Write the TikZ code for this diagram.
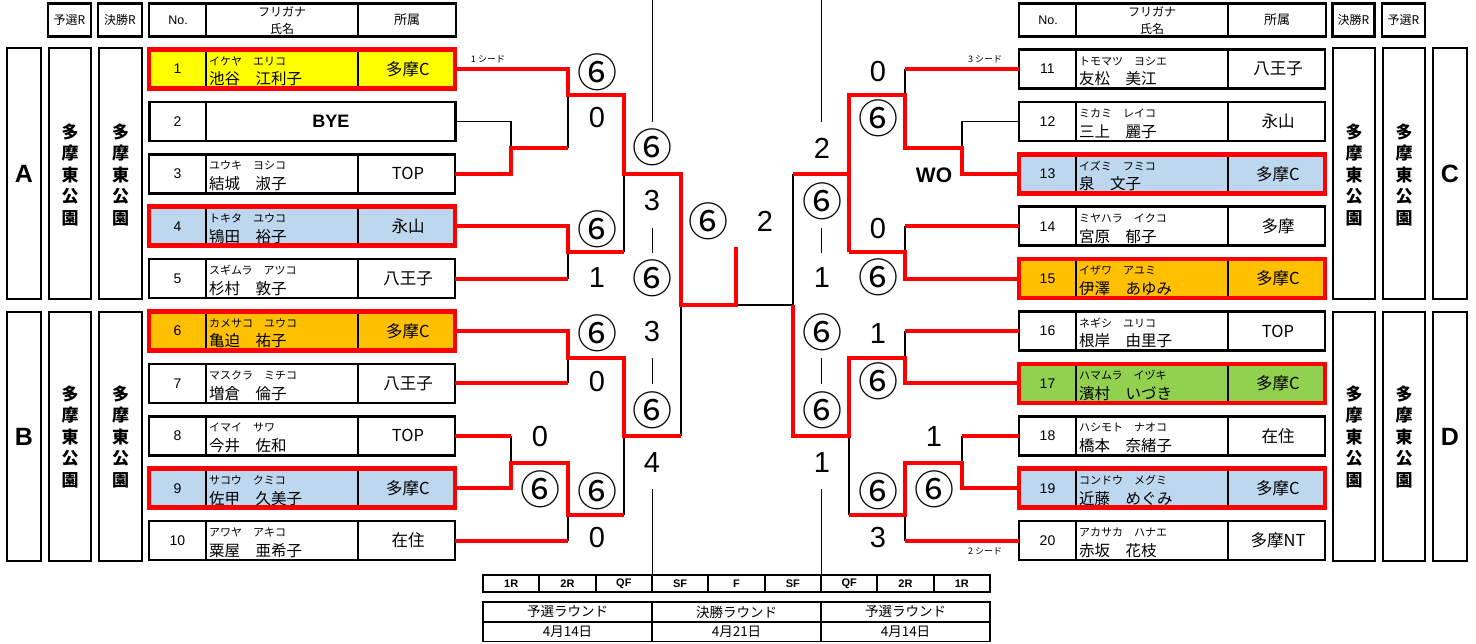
\documentclass[tikz,border=0pt]{standalone}
\usepackage{fontspec}
\setmainfont{Liberation Sans}
\newfontfamily\jp{Noto Sans CJK JP}
\definecolor{cyel}{HTML}{FFFF00}
\definecolor{cblue}{HTML}{BDD7EE}
\definecolor{corg}{HTML}{FFC000}
\definecolor{cgrn}{HTML}{92D050}
\definecolor{cred}{HTML}{FF0000}
\tikzset{
  rowbox/.style={draw=black,line width=2.5pt,minimum width=306pt,minimum height=39pt,inner sep=0pt,outer sep=0pt},
  colbox/.style={draw=black,line width=2.5pt,inner sep=0pt,outer sep=0pt},
  divl/.style={draw=black,line width=1.3pt},
  divh/.style={draw=black,line width=2.5pt},
  rframe/.style={draw=cred,line width=4.5pt},
  rl/.style={draw=cred,line width=4pt},
  bl/.style={draw=black,line width=1.8pt},
  thinl/.style={draw=black,line width=0.9pt},
  numtxt/.style={font=\fontsize{14}{14}\selectfont,inner sep=0pt},
  kana/.style={font=\jp\fontsize{11}{11}\selectfont,inner sep=0pt,anchor=west},
  kanji/.style={font=\jp\fontsize{15.5}{15.5}\selectfont,inner sep=0pt,anchor=west},
  afftxt/.style={font=\jp\fontsize{16.5}{16.5}\selectfont,inner sep=0pt},
  hdr/.style={font=\jp\fontsize{12}{12}\selectfont,inner sep=0pt},
  vtext/.style={font=\jp\bfseries\fontsize{17}{21.5}\selectfont,align=center,inner sep=0pt},
  bigl/.style={font=\bfseries\fontsize{25}{25}\selectfont,inner sep=0pt},
  sc/.style={font=\fontsize{29}{29}\selectfont,inner sep=0pt},
  cs/.style={font=\jp\fontsize{40}{40}\selectfont,inner sep=0pt},
  seed/.style={font=\jp\fontsize{9}{9}\selectfont,inner sep=0pt},
  rcell/.style={draw=black,line width=1.8pt,minimum width=56.33pt,minimum height=17pt,inner sep=0pt,font=\bfseries\fontsize{11}{11}\selectfont},
  dcell/.style={inner sep=0pt,font=\jp\fontsize{13.5}{13.5}\selectfont}
}
% #1 id, #2 xleft, #3 yc, #4 no, #5 kana, #6 kanji, #7 aff, #8 fill
\newcommand\prow[8]{%
  \node[rowbox,fill=#8] (#1) at ({#2+153},#3) {};
  \draw[divl] ({#2+57},{#3-19.5}) -- ({#2+57},{#3+19.5});
  \draw[divl] ({#2+209},{#3-19.5}) -- ({#2+209},{#3+19.5});
  \node[numtxt] (#1n) at ({#2+28.5},#3) {#4};
  \node[kana] (#1f) at ({#2+60},{#3-8}) {#5};
  \node[kanji] (#1k) at ({#2+60},{#3+10}) {#6};
  \node[afftxt] (#1a) at ({#2+259},#3) {#7};
}
\newcommand\redframe[1]{\draw[rframe] (#1.north west) rectangle (#1.south east);}
\begin{document}
\begin{tikzpicture}[x=1pt,y=-1pt]
\useasboundingbox (0,0) rectangle (1476,643);
\fill[white] (0,0) rectangle (1476,643);

% ---------- headers ----------
\node[colbox,minimum width=43pt,minimum height=33pt,hdr] (hYL) at (69.5,20) {予選R};
\node[colbox,minimum width=44pt,minimum height=33pt,hdr] (hKL) at (120,20) {決勝R};
\node[colbox,minimum width=307pt,minimum height=33pt] (hTL) at (302.5,20) {};
\draw[divh] (206,3.5) -- (206,36.5);
\draw[divh] (358,3.5) -- (358,36.5);
\node[hdr,font=\fontsize{12.5}{12.5}\selectfont] (hNoL) at (178,20) {No.};
\node[hdr] (hFL) at (282,12) {フリガナ};
\node[hdr] (hSL) at (282,29) {氏名};
\node[hdr,font=\jp\fontsize{13}{13}\selectfont] (hAL) at (407,20) {所属};

\node[colbox,minimum width=307pt,minimum height=33pt] (hTR) at (1172.5,20) {};
\draw[divh] (1076,3.5) -- (1076,36.5);
\draw[divh] (1228,3.5) -- (1228,36.5);
\node[hdr,font=\fontsize{12.5}{12.5}\selectfont] (hNoR) at (1048,20) {No.};
\node[hdr] (hFR) at (1152,12) {フリガナ};
\node[hdr] (hSR) at (1152,29) {氏名};
\node[hdr,font=\jp\fontsize{13}{13}\selectfont] (hAR) at (1277,20) {所属};
\node[colbox,minimum width=42pt,minimum height=33pt,hdr] (hKR) at (1353.5,20) {決勝R};
\node[colbox,minimum width=43pt,minimum height=33pt,hdr] (hYR) at (1403.5,20) {予選R};

% ---------- side columns ----------
\node[colbox,minimum width=34pt,minimum height=251pt] (cA) at (24,173.5) {};
\node[bigl] (tA) at (24,173.5) {A};
\node[colbox,minimum width=42pt,minimum height=251pt] (cA1) at (70,173.5) {};
\node[vtext] (tA1) at (70,175) {多\\摩\\東\\公\\園};
\node[colbox,minimum width=43pt,minimum height=251pt] (cA2) at (120.5,173.5) {};
\node[vtext] (tA2) at (120.5,175) {多\\摩\\東\\公\\園};
\node[colbox,minimum width=34pt,minimum height=249pt] (cB) at (24,436.5) {};
\node[bigl] (tB) at (24,436.5) {B};
\node[colbox,minimum width=42pt,minimum height=249pt] (cB1) at (70,436.5) {};
\node[vtext] (tB1) at (70,437) {多\\摩\\東\\公\\園};
\node[colbox,minimum width=43pt,minimum height=249pt] (cB2) at (120.5,436.5) {};
\node[vtext] (tB2) at (120.5,437) {多\\摩\\東\\公\\園};

\node[colbox,minimum width=42pt,minimum height=251pt] (cC1) at (1354,173.5) {};
\node[vtext] (tC1) at (1354,175) {多\\摩\\東\\公\\園};
\node[colbox,minimum width=42pt,minimum height=251pt] (cC2) at (1404,173.5) {};
\node[vtext] (tC2) at (1404,175) {多\\摩\\東\\公\\園};
\node[colbox,minimum width=34pt,minimum height=251pt] (cC) at (1450,173.5) {};
\node[bigl] (tC) at (1450,173.5) {C};
\node[colbox,minimum width=42pt,minimum height=249pt] (cD1) at (1354,436.5) {};
\node[vtext] (tD1) at (1354,437) {多\\摩\\東\\公\\園};
\node[colbox,minimum width=42pt,minimum height=249pt] (cD2) at (1404,436.5) {};
\node[vtext] (tD2) at (1404,437) {多\\摩\\東\\公\\園};
\node[colbox,minimum width=34pt,minimum height=249pt] (cD) at (1450,436.5) {};
\node[bigl] (tD) at (1450,436.5) {D};

% ---------- players ----------
\prow{p1}{149}{69}{1}{イケヤ　エリコ}{池谷　江利子}{多摩C}{cyel}
\node[rowbox] (p2) at (302.5,121.4) {};
\draw[divl] (206,101.9) -- (206,140.9);
\node[numtxt] (p2n) at (177.5,121.4) {2};
\node[font=\bfseries\fontsize{18}{18}\selectfont,inner sep=0pt] (p2b) at (331,121.4) {BYE};
\prow{p3}{149}{173.8}{3}{ユウキ　ヨシコ}{結城　淑子}{TOP}{white}
\prow{p4}{149}{226.2}{4}{トキタ　ユウコ}{鴇田　裕子}{永山}{cblue}
\prow{p5}{149}{278.6}{5}{スギムラ　アツコ}{杉村　敦子}{八王子}{white}
\prow{p6}{149}{331}{6}{カメサコ　ユウコ}{亀迫　祐子}{多摩C}{corg}
\prow{p7}{149}{383.4}{7}{マスクラ　ミチコ}{増倉　倫子}{八王子}{white}
\prow{p8}{149}{435.8}{8}{イマイ　サワ}{今井　佐和}{TOP}{white}
\prow{p9}{149}{488.2}{9}{サコウ　クミコ}{佐甲　久美子}{多摩C}{cblue}
\prow{p10}{149}{540.6}{10}{アワヤ　アキコ}{粟屋　亜希子}{在住}{white}

\prow{p11}{1019}{69}{11}{トモマツ　ヨシエ}{友松　美江}{八王子}{white}
\prow{p12}{1019}{121.4}{12}{ミカミ　レイコ}{三上　麗子}{永山}{white}
\prow{p13}{1019}{173.8}{13}{イズミ　フミコ}{泉　文子}{多摩C}{cblue}
\prow{p14}{1019}{226.2}{14}{ミヤハラ　イクコ}{宮原　郁子}{多摩}{white}
\prow{p15}{1019}{278.6}{15}{イザワ　アユミ}{伊澤　あゆみ}{多摩C}{corg}
\prow{p16}{1019}{331}{16}{ネギシ　ユリコ}{根岸　由里子}{TOP}{white}
\prow{p17}{1019}{383.4}{17}{ハマムラ　イヅキ}{濱村　いづき}{多摩C}{cgrn}
\prow{p18}{1019}{435.8}{18}{ハシモト　ナオコ}{橋本　奈緒子}{在住}{white}
\prow{p19}{1019}{488.2}{19}{コンドウ　メグミ}{近藤　めぐみ}{多摩C}{cblue}
\prow{p20}{1019}{540.6}{20}{アカサカ　ハナエ}{赤坂　花枝}{多摩NT}{white}

\redframe{p1}\redframe{p4}\redframe{p6}\redframe{p9}
\redframe{p13}\redframe{p15}\redframe{p17}\redframe{p19}

% ---------- junction coordinates ----------
\coordinate (a1) at (568,95);
\coordinate (a2) at (511,148);
\coordinate (a3) at (568,252);
\coordinate (a4) at (624,174);
\coordinate (a5) at (681,305);
\coordinate (a6) at (568,358);
\coordinate (a7) at (511,463);
\coordinate (a8) at (568,515);
\coordinate (a9) at (624,436);
\coordinate (fin) at (736,247);
\coordinate (b1) at (905,95);
\coordinate (b2) at (962,148);
\coordinate (b3) at (905,252);
\coordinate (b4) at (849,174);
\coordinate (b5) at (793,305);
\coordinate (b6) at (905,358);
\coordinate (b7) at (962,463);
\coordinate (b8) at (905,515);
\coordinate (b9) at (849,436);

% ---------- thin column lines ----------
\draw[thinl] (652,0) -- (652,122);
\draw[thinl] (821,0) -- (821,122);
\draw[thinl] (652,228) -- (652,253);
\draw[thinl] (821,228) -- (821,253);
\draw[thinl] (652,358) -- (652,384);
\draw[thinl] (821,358) -- (821,384);
\draw[thinl] (652,489) -- (652,575);
\draw[thinl] (821,489) -- (821,575);

% ---------- black bracket lines ----------
\draw[bl] (p2.east) -| (a2);
\draw[bl] (a1) -- (a1 |- a2);
\draw[bl] (a4) -- (a4 |- a3);
\draw[bl] (a3) -- (a3 |- p5.east);
\draw[bl] (a5) -- (a5 |- a9);
\draw[bl] (fin |- a5) -- (b5);
\draw[bl] (a6) -- (a6 |- p7.east);
\draw[bl] (a9) -- (a9 |- a8);
\draw[bl] (a7 |- p8.east) -- (a7);
\draw[bl] (a8) -- (a8 |- p10.east);

\draw[bl] (p12.west) -| (b2);
\draw[bl] (b1 |- p11.west) -- (b1);
\draw[bl] (b5 |- b4) -- (b5);
\draw[bl] (b3 |- p14.west) -- (b3);
\draw[bl] (b6 |- p16.west) -- (b6);
\draw[bl] (b9) -- (b9 |- b8);
\draw[bl] (b7 |- p18.west) -- (b7);
\draw[bl] (b8) -- (b8 |- p20.west);

% ---------- red bracket lines ----------
\draw[rl] (p1.east) -| (a1) -| (a4) -| (a5) -| (fin);
\draw[rl] (p3.east) -| (a2) -- (a2 -| a1);
\draw[rl] (p4.east) -| (a3) -- (a3 -| a4);
\draw[rl] (p5.east) -- (p5.east -| a3);
\draw[rl] (p6.east) -| (a6) -| (a9) -- (a9 -| a5);
\draw[rl] (p7.east) -- (p7.east -| a6);
\draw[rl] (p8.east) -- (p8.east -| a7);
\draw[rl] (p9.east) -| (a7) -| (a8) -- (a8 -| a9);
\draw[rl] (p10.east) -- (p10.east -| a8);

\draw[rl] (p11.west) -- (p11.west -| b1);
\draw[rl] (p13.west) -| (b2) -| (b1) -| (b4 |- b3);
\draw[rl] (b4) -- (b4 -| b5);
\draw[rl] (p14.west) -- (p14.west -| b3);
\draw[rl] (p15.west) -| (b3) -- (b3 -| b4);
\draw[rl] (p16.west) -- (p16.west -| b6);
\draw[rl] (p17.west) -| (b6) -| (b9) -- (b9 -| b5) -- (b5);
\draw[rl] (p18.west) -- (p18.west -| b7);
\draw[rl] (p19.west) -| (b7) -| (b8) -- (b8 -| b9);
\draw[rl] (p20.west) -- (p20.west -| b8);

% ---------- seeds ----------
\node[seed] (s1) at (488,59) {1 シード};
\node[seed] (s3) at (985,59) {3 シード};
\node[seed] (s2) at (985,551) {2 シード};

% ---------- scores left ----------
\node[cs] (l1) at (597,72) {⑥};
\node[sc] (l2) at (597,118) {0};
\node[cs] (l3) at (652,147) {⑥};
\node[sc] (l4) at (652,201) {3};
\node[cs] (l5) at (652,278) {⑥};
\node[cs] (l6) at (597,229) {⑥};
\node[sc] (l7) at (597,278) {1};
\node[cs] (l8) at (708,221) {⑥};
\node[sc] (l9) at (765,221) {2};
\node[cs] (l10) at (597,333) {⑥};
\node[sc] (l11) at (597,382) {0};
\node[sc] (l12) at (652,332) {3};
\node[cs] (l13) at (652,410) {⑥};
\node[sc] (l14) at (652,463) {4};
\node[sc] (l15) at (540,437) {0};
\node[cs] (l16) at (540,489) {⑥};
\node[cs] (l17) at (597,491) {⑥};
\node[sc] (l18) at (597,538) {0};

% ---------- scores right ----------
\node[sc] (r1) at (878,72) {0};
\node[cs] (r2) at (878,118) {⑥};
\node[font=\bfseries\fontsize{21}{21}\selectfont,inner sep=0pt] (r3) at (934,175) {WO};
\node[sc] (r4) at (822,148) {2};
\node[cs] (r5) at (822,201) {⑥};
\node[sc] (r6) at (822,278) {1};
\node[sc] (r7) at (878,229) {0};
\node[cs] (r8) at (878,277) {⑥};
\node[cs] (r9) at (822,332) {⑥};
\node[cs] (r10) at (822,410) {⑥};
\node[sc] (r11) at (822,463) {1};
\node[sc] (r12) at (878,334) {1};
\node[cs] (r13) at (878,381) {⑥};
\node[sc] (r14) at (934,437) {1};
\node[cs] (r15) at (934,489) {⑥};
\node[cs] (r16) at (878,491) {⑥};
\node[sc] (r17) at (878,538) {3};

% ---------- round table ----------
\foreach \t [count=\i] in {1R,2R,QF,SF,F,SF,QF,2R,1R}{
  \node[rcell] (rc\i) at ({483+56.333*(\i-0.5)},583.5) {\t};
}
% ---------- date table ----------
\draw[line width=1.8pt] (483,602) rectangle (990,641.5);
\draw[line width=1.2pt] (483,622) -- (990,622);
\draw[line width=1.8pt] (652,602) -- (652,641.5);
\draw[line width=1.8pt] (821,602) -- (821,641.5);
\node[dcell] (d1) at (567.5,612) {予選ラウンド};
\node[dcell] (d2) at (567.5,632) {4月14日};
\node[dcell] (d3) at (736.5,612) {決勝ラウンド};
\node[dcell] (d4) at (736.5,632) {4月21日};
\node[dcell] (d5) at (905.5,612) {予選ラウンド};
\node[dcell] (d6) at (905.5,632) {4月14日};
\end{tikzpicture}
\end{document}
